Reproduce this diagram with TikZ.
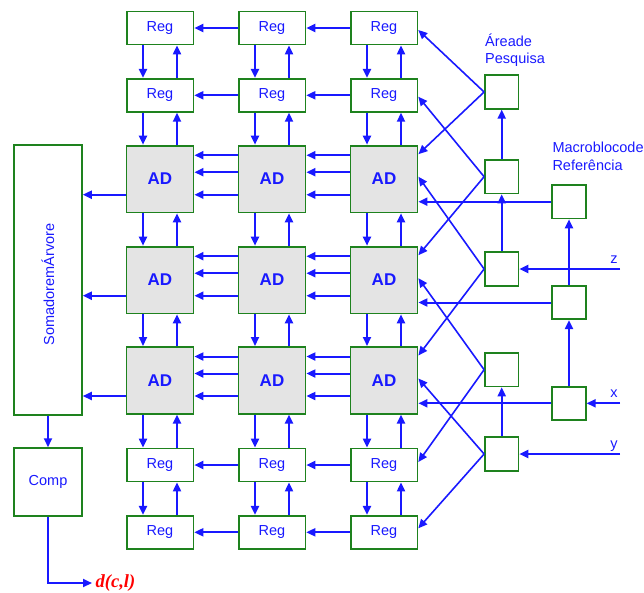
\documentclass[tikz,border=0pt]{standalone}
\usepackage{fontspec}
\usepackage{graphicx}
\setmainfont{Liberation Sans}
\newfontfamily\timesfam{Liberation Serif}
\usetikzlibrary{arrows.meta,calc}

\definecolor{lineblue}{RGB}{25,25,255}
\definecolor{boxgreen}{RGB}{30,130,30}
\definecolor{adgray}{RGB}{228,228,228}
\definecolor{outred}{RGB}{255,0,0}

\begin{document}
\begin{tikzpicture}[x=1pt,y=-1pt,
  txt/.style={text=lineblue, font=\fontsize{14.5}{17}\selectfont},
  box/.style={draw=boxgreen, line width=1.8pt, fill=white, inner sep=0pt, txt},
  regbox/.style={box, minimum width=66.8pt, minimum height=33pt},
  adbox/.style={box, fill=adgray, minimum width=67pt, minimum height=66.8pt,
    font=\fontsize{17}{20}\selectfont\bfseries},
  sqbox/.style={box, minimum width=33.4pt, minimum height=33.4pt},
  lbl/.style={txt, inner sep=0pt},
  arr/.style={draw=lineblue, line width=2pt, -{Triangle[length=9pt,width=8pt]}},
  diag/.style={arr, line width=1.6pt}]

\useasboundingbox (0,0) rectangle (644,592);

% ---- register / absolute-difference array ----
\foreach \c/\x in {1/160,2/272,3/384}{
  \node[regbox] (r1c\c) at (\x,28)    {Reg};
  \node[regbox] (r2c\c) at (\x,95.3)  {Reg};
  \node[adbox]  (a1c\c) at (\x,179)   {AD};
  \node[adbox]  (a2c\c) at (\x,280)   {AD};
  \node[adbox]  (a3c\c) at (\x,380.3) {AD};
  \node[regbox] (r4c\c) at (\x,465)   {Reg};
  \node[regbox] (r5c\c) at (\x,532.3) {Reg};
}

% ---- tree adder and comparator ----
\node[box, minimum width=67.7pt, minimum height=270pt] (som) at (48,280)
  {\rotatebox{90}{SomadoremÁrvore\hspace{9pt}}};
\node[box, minimum width=67.7pt, minimum height=67.7pt] (comp) at (48,482) {Comp};
\node[anchor=west, inner sep=3.5pt, text=outred,
  font=\fontsize{18.5}{21}\selectfont\timesfam\bfseries\itshape] (dout) at (92,583) {d(c,l)};

% ---- search area and reference macroblock registers ----
\node[sqbox] (p1) at (501.7,92)    {};
\node[sqbox] (p2) at (501.7,176.7) {};
\node[sqbox] (p3) at (501.7,269)   {};
\node[sqbox] (p4) at (501.7,369.7) {};
\node[sqbox] (p5) at (501.7,454)   {};
\node[sqbox] (m1) at (569,201.7) {};
\node[sqbox] (m2) at (569,302.5) {};
\node[sqbox] (m3) at (569,403.3) {};

\node[lbl, anchor=base west] (al1) at (485,46)    {Áreade};
\node[lbl, anchor=base west] (al2) at (485,63.3)  {Pesquisa};
\node[lbl, anchor=base west] (ml1) at (552.3,152.7) {Macroblocode};
\node[lbl, anchor=base west] (ml2) at (552.3,170)   {Referência};

% ---- external inputs ----
\coordinate (zin) at (620,269);
\coordinate (xin) at (620,403.3);
\coordinate (yin) at (620,454);
\node[lbl, anchor=base] (zl) at (614,263) {z};
\node[lbl, anchor=base] (xl) at (614,397) {x};
\node[lbl, anchor=base] (yl) at (614,448) {y};

% ---- vertical links inside each column ----
\foreach \c in {1,2,3}{
  \foreach \up/\lo in {r1/r2, r2/a1, a1/a2, a2/a3, a3/r4, r4/r5}{
    \draw[arr] ([xshift=-17pt]\up c\c.south) -- ([xshift=-17pt]\lo c\c.north);
    \draw[arr] ([xshift=17pt]\lo c\c.north) -- ([xshift=17pt]\up c\c.south);
  }
}

% ---- horizontal links between registers ----
\foreach \r in {r1,r2,r4,r5}{
  \draw[arr] (\r c2.west) -- (\r c1.east);
  \draw[arr] (\r c3.west) -- (\r c2.east);
}

% ---- horizontal links between AD cells ----
\foreach \r in {a1,a2,a3}{
  \foreach \o in {10.5,27.5,50}{
    \draw[arr] ($(\r c2.north west)+(0,\o)$) -- ($(\r c1.north east)+(0,\o)$);
    \draw[arr] ($(\r c3.north west)+(0,\o)$) -- ($(\r c2.north east)+(0,\o)$);
  }
  \coordinate (s\r) at ($(\r c1.north west)+(0,50)$);
  \draw[arr] (s\r) -- (s\r -| som.east);
}

\draw[arr] (som.south) -- (comp.north);
\draw[arr] (comp.south) |- (dout.west);

% ---- search area feeding the array ----
\draw[diag] (p1.west) -- ($(r1c3.east)+(0,2)$);
\draw[diag] (p1.west) -- ($(a1c3.north east)+(0,9.5)$);
\draw[diag] (p2.west) -- ($(r2c3.east)+(0,1.4)$);
\draw[diag] (p2.west) -- ($(a2c3.north east)+(0,9.5)$);
\draw[diag] (p3.west) -- ($(a1c3.north east)+(0,32)$);
\draw[diag] (p3.west) -- ($(a3c3.north east)+(0,9.5)$);
\draw[diag] (p4.west) -- ($(a2c3.north east)+(0,32.5)$);
\draw[diag] (p4.west) -- ($(r4c3.east)+(0,-3)$);
\draw[diag] (p5.west) -- ($(a3c3.north east)+(0,32.5)$);
\draw[diag] (p5.west) -- ($(r5c3.east)+(0,-4)$);

\draw[arr] (p2.north) -- (p1.south);
\draw[arr] (p3.north) -- (p2.south);
\draw[arr] (p5.north) -- (p4.south);

% ---- reference macroblock feeding the array ----
\draw[arr] (m1.west) -- (m1.west -| a1c3.east);
\draw[arr] (m2.west) -- (m2.west -| a2c3.east);
\draw[arr] (m3.west) -- (m3.west -| a3c3.east);
\draw[arr] (m3.north) -- (m2.south);
\draw[arr] (m2.north) -- (m1.south);

\draw[arr] (zin) -- (p3.east);
\draw[arr] (xin) -- (m3.east);
\draw[arr] (yin) -- (p5.east);

\end{tikzpicture}
\end{document}
